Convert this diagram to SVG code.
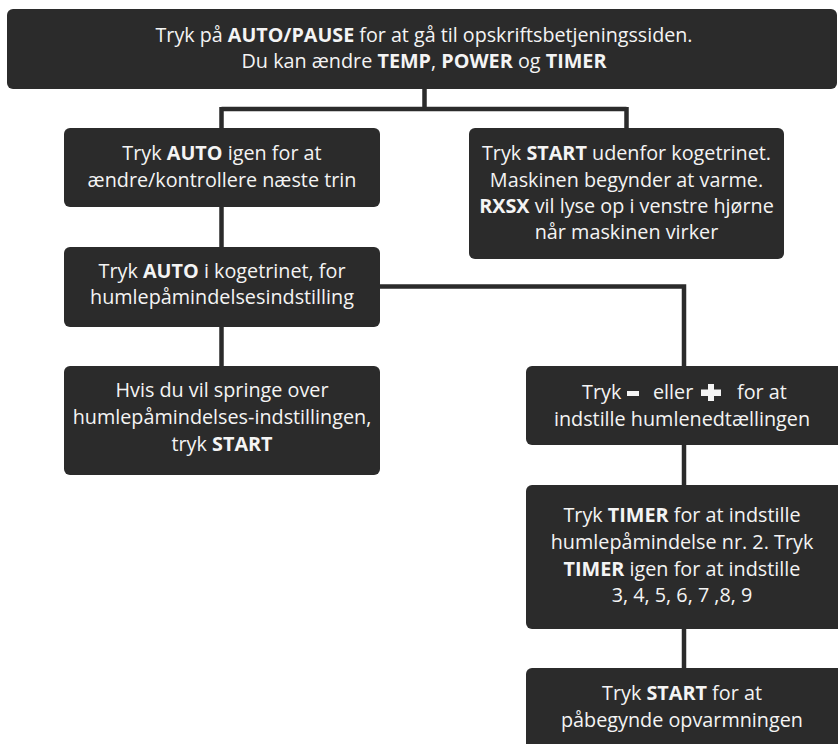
<svg xmlns="http://www.w3.org/2000/svg" width="838" height="744" viewBox="0 0 838 744">
<style>
.box{fill:#2b2b2b;}
.t{font-family:"Open Sans","Noto Sans","Liberation Sans",sans-serif;font-size:19.8px;fill:#f4f4f4;text-anchor:middle;}
.tl{font-family:"Open Sans","Noto Sans","Liberation Sans",sans-serif;font-size:19.8px;fill:#f4f4f4;}
.b{font-weight:bold;}
.c{fill:none;stroke:#2b2b2b;stroke-width:4.5;}
</style>
<rect width="838" height="744" fill="#ffffff"/>
<g id="connectors">
<path class="c" d="M424.5 88 V109 M221.5 109 H626.5 M221.5 107 V130 M626.5 107 V130"/>
<path class="c" d="M221.5 206 V249"/>
<path class="c" d="M221.5 326 V368"/>
<path class="c" d="M378 286.5 H684 V368"/>
<path class="c" d="M684 443 V487"/>
<path class="c" d="M684 627 V670"/>
</g>
<g id="n-top">
<rect class="box" x="7" y="9" width="830" height="80" rx="6"/>
<text class="t" x="424" y="42" textLength="537" lengthAdjust="spacingAndGlyphs">Tryk på <tspan class="b">AUTO/PAUSE</tspan> for at gå til opskriftsbetjeningssiden.</text>
<text class="t" x="424" y="68" textLength="365" lengthAdjust="spacingAndGlyphs">Du kan ændre <tspan class="b">TEMP</tspan>, <tspan class="b">POWER</tspan> og <tspan class="b">TIMER</tspan></text>
</g>
<g id="n-auto-igen">
<rect class="box" x="64" y="128" width="316" height="79" rx="6"/>
<text class="t" x="222" y="160">Tryk <tspan class="b">AUTO</tspan> igen for at</text>
<text class="t" x="222" y="187">ændre/kontrollere næste trin</text>
</g>
<g id="n-start-udenfor">
<rect class="box" x="469" y="128" width="315" height="131" rx="6"/>
<text class="t" x="626.5" y="160">Tryk <tspan class="b">START</tspan> udenfor kogetrinet.</text>
<text class="t" x="626.5" y="187">Maskinen begynder at varme.</text>
<text class="t" x="626.5" y="213"><tspan class="b">RXSX</tspan> vil lyse op i venstre hjørne</text>
<text class="t" x="626.5" y="239">når maskinen virker</text>
</g>
<g id="n-auto-koge">
<rect class="box" x="64" y="247" width="316" height="80" rx="6"/>
<text class="t" x="222" y="278">Tryk <tspan class="b">AUTO</tspan> i kogetrinet, for</text>
<text class="t" x="222" y="304">humlepåmindelsesindstilling</text>
</g>
<g id="n-spring">
<rect class="box" x="64" y="366" width="316" height="109" rx="6"/>
<text class="t" x="222" y="397">Hvis du vil springe over</text>
<text class="t" x="222" y="424">humlepåmindelses-indstillingen,</text>
<text class="t" x="222" y="451">tryk <tspan class="b">START</tspan></text>
</g>
<g id="n-minus-plus">
<rect class="box" x="526" y="366" width="318" height="79" rx="6"/>
<text class="tl" x="582" y="399">Tryk</text>
<rect x="627" y="391" width="12" height="5" fill="#f4f4f4"/>
<text class="tl" x="653" y="399">eller</text>
<path d="M701 389.5 H721 V396 H701 Z M708 384 H714 V401 H708 Z" fill="#f4f4f4"/>
<text class="tl" x="737" y="399">for at</text>
<text class="t" x="682" y="426">indstille humlenedtællingen</text>
</g>
<g id="n-timer">
<rect class="box" x="526" y="485" width="318" height="144" rx="6"/>
<text class="t" x="682" y="522">Tryk <tspan class="b">TIMER</tspan> for at indstille</text>
<text class="t" x="682" y="549">humlepåmindelse nr. 2. Tryk</text>
<text class="t" x="682" y="576"><tspan class="b">TIMER</tspan> igen for at indstille</text>
<text class="t" x="682" y="602">3, 4, 5, 6, 7 ,8, 9</text>
</g>
<g id="n-start-opvarm">
<rect class="box" x="526" y="668" width="318" height="90" rx="6"/>
<text class="t" x="682" y="700">Tryk <tspan class="b">START</tspan> for at</text>
<text class="t" x="682" y="727">påbegynde opvarmningen</text>
</g>
</svg>
